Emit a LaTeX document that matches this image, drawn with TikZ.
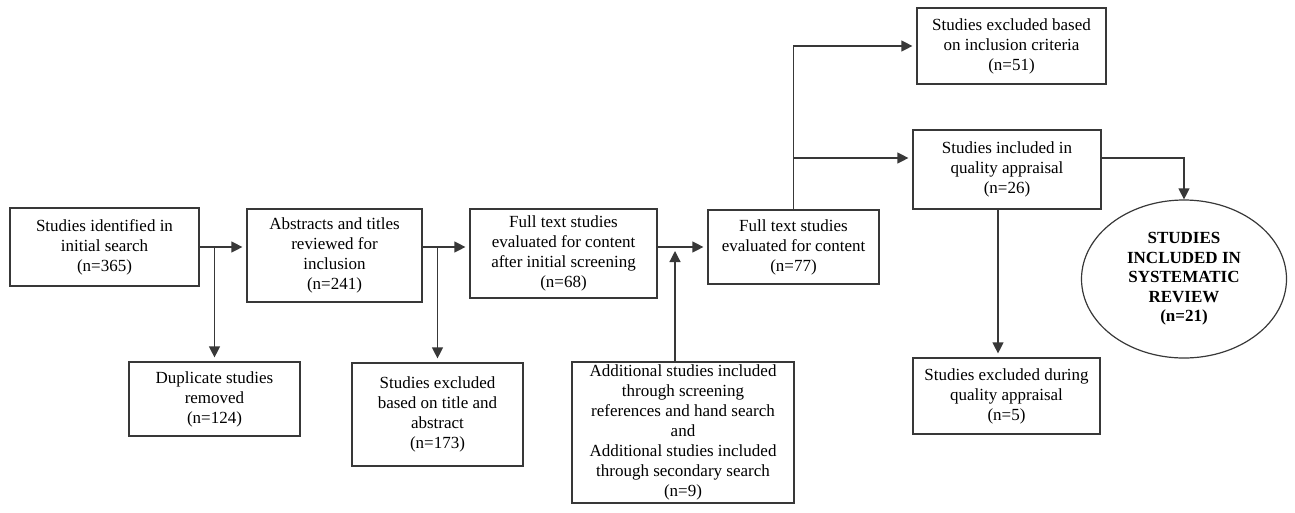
\documentclass[tikz,border=0pt]{standalone}
\usepackage{fontspec}
\setmainfont{Liberation Serif}
\usetikzlibrary{arrows.meta,positioning,shapes}
\colorlet{flowline}{black!78}

\begin{document}
\begin{tikzpicture}[x=1pt,y=-1pt,font=\fontsize{17}{20}\selectfont,bx/.style={draw=flowline,line width=1.2pt,align=center,inner sep=0pt},ar/.style={-{Triangle[length=11pt,width=11pt]},line width=1.2pt,flowline,shorten >=4pt},ov/.style={ellipse,draw=flowline,line width=1.2pt,align=center,inner sep=0pt,font=\fontsize{17}{19.5}\selectfont\bfseries}]
\useasboundingbox (0,0) rectangle (1295,512);
\node[bx,minimum width=189pt,minimum height=78pt] (ident) at (104.5,247) {Studies identified in\\initial search\\(n=365)};
\node[bx,minimum width=175pt,minimum height=93pt] (abstr) at (334.5,255.5) {Abstracts and titles\\reviewed for\\inclusion\\(n=241)};
\node[bx,minimum width=187pt,minimum height=89pt] (full1) at (563.5,253.5) {Full text studies\\evaluated for content\\after initial screening\\(n=68)};
\node[bx,minimum width=171pt,minimum height=74pt] (full2) at (793.5,247) {Full text studies\\evaluated for content\\(n=77)};
\node[bx,minimum width=189pt,minimum height=76pt] (exincl) at (1011.5,46) {Studies excluded based\\on inclusion criteria\\(n=51)};
\node[bx,minimum width=188pt,minimum height=79pt] (qual) at (1007,169.5) {Studies included in\\quality appraisal\\(n=26)};
\node[ov,minimum width=205pt,minimum height=158pt] (final) at (1184,279) {STUDIES\\INCLUDED IN\\SYSTEMATIC\\REVIEW\\(n=21)};
\node[bx,minimum width=187pt,minimum height=76pt] (exqual) at (1006.5,396) {Studies excluded during\\quality appraisal\\(n=5)};
\node[bx,minimum width=171pt,minimum height=74pt] (dup) at (214.5,399) {Duplicate studies\\removed\\(n=124)};
\node[bx,minimum width=171pt,minimum height=103pt] (extitle) at (437.5,414.5) {Studies excluded\\based on title and\\abstract\\(n=173)};
\node[bx,minimum width=222pt,minimum height=141pt] (addit) at (683,432.5) {Additional studies included\\through screening\\references and hand search\\and\\Additional studies included\\through secondary search\\(n=9)};
\draw[ar](ident.east)--(ident.east -| abstr.west);
\draw[ar](ident.east -| abstr.east)--(ident.east -| full1.west);
\draw[ar](full1.east |- full2.west)--(full2.west);
\draw[ar](dup.north |- ident.east)--(dup.north);
\draw[ar](extitle.north |- ident.east)--(extitle.north);
\draw[ar]([xshift=-8pt]addit.north)--([xshift=-8pt]addit.north |- full2.west);
\draw[ar](full2.north)--(full2.north |- exincl.west)--(exincl.west);
\draw[ar]([yshift=11.5pt]qual.west -| full2.north)--([yshift=11.5pt]qual.west);
\draw[ar,shorten >=0pt]([yshift=11.5pt]qual.east)-|(final.north);
\draw[ar]([xshift=-9pt]qual.south)--([xshift=-9pt]qual.south |- exqual.north);
\end{tikzpicture}
\end{document}
